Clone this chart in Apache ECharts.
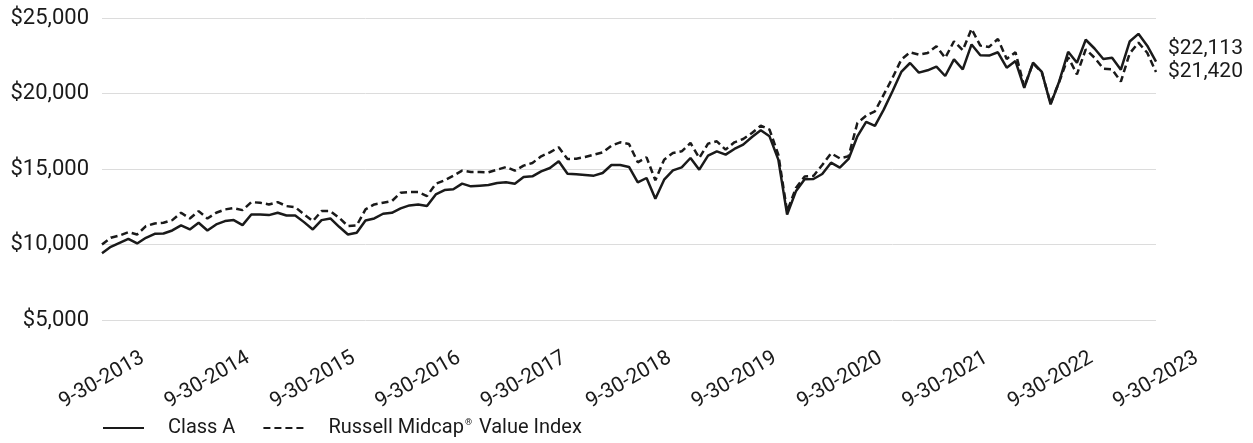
<!DOCTYPE html>
<html>
<head>
<meta charset="utf-8">
<style>
  html, body { margin: 0; padding: 0; background: #fff; }
  #chart { width: 1253px; height: 443px; }
</style>
<script src="https://cdn.jsdelivr.net/npm/echarts@6/dist/echarts.min.js"></script>
</head>
<body>
<div id="chart"></div>
<script>
// month-end dates, 9-30-2013 .. 9-30-2023
const monthEnd = [31, 28, 31, 30, 31, 30, 31, 31, 30, 31, 30, 31]
const months = []
for (let y = 2013, m = 9; y < 2023 || (y === 2023 && m <= 9); m++) {
  if (m > 12) { m = 1; y++ }
  if (y === 2023 && m > 9) break
  const leap = m === 2 && y % 4 === 0
  months.push(m + '-' + (leap ? 29 : monthEnd[m - 1]) + '-' + y)
}

const yTicks = [5000, 10000, 15000, 20000, 25000]

const classA = [
  9425, 9847, 10112, 10377, 10068, 10444, 10709, 10731, 10930, 11261, 10996, 11438,
  10930, 11328, 11549, 11615, 11283, 11990, 11990, 11946, 12101, 11924, 11924, 11482,
  10996, 11615, 11725, 11173, 10665, 10775, 11593, 11725, 12035, 12101, 12388, 12587,
  12653, 12543, 13317, 13604, 13660, 14029, 13852, 13896, 13940, 14073, 14117, 14029,
  14471, 14515, 14846, 15067, 15508, 14691, 14647, 14603, 14559, 14735, 15265, 15265,
  15133, 14117, 14404, 13035, 14294, 14912, 15111, 15729, 14956, 15884, 16171, 15950,
  16325, 16612, 17120, 17562, 17164, 15619, 11975, 13521, 14320, 14338, 14670, 15418,
  15090, 15664, 17166, 18120, 17860, 18932, 20146, 21430, 22020, 21380, 21537, 21780,
  21160, 22260, 21600, 23250, 22530, 22509, 22730, 21710, 22150, 20380, 22040, 21430,
  19280, 20830, 22760, 22040, 23560, 22980, 22280, 22370, 21580, 23440, 23950, 23170,
  22113
]

const russellMidcapValue = [
  10000, 10444, 10598, 10819, 10664, 11217, 11394, 11438, 11615, 12101, 11725, 12212,
  11725, 12101, 12322, 12410, 12278, 12808, 12764, 12654, 12808, 12543, 12477, 11990,
  11549, 12212, 12212, 11770, 11217, 11261, 12322, 12654, 12764, 12875, 13427, 13471,
  13471, 13206, 14024, 14245, 14550, 14890, 14802, 14802, 14780, 14956, 15133, 14890,
  15221, 15398, 15840, 16104, 16436, 15663, 15685, 15795, 15950, 16104, 16546, 16767,
  16656, 15442, 15773, 14250, 15619, 16060, 16171, 16723, 15729, 16678, 16833, 16281,
  16767, 16988, 17385, 17871, 17606, 15950, 12196, 13742, 14500, 14537, 15266, 16040,
  15708, 15841, 18049, 18535, 18822, 19926, 21030, 22244, 22730, 22575, 22686, 23127,
  22354, 23458, 22862, 24275, 23171, 23083, 23613, 22288, 22730, 20450, 22000, 21400,
  19350, 20800, 22400, 21270, 22920, 22370, 21650, 21600, 20790, 22650, 23370, 22700,
  21420
]

const money = (v) => '$' + String(Math.round(v)).replace(/\B(?=(\d{3})+(?!\d))/g, ',')

const ink = '#1a1a1a'
const font = 'Roboto, "Noto Sans", sans-serif'

const chart = echarts.init(document.getElementById('chart'), null, { renderer: 'canvas' })

chart.setOption({
  animation: false,
  textStyle: { fontFamily: font, color: ink },
  grid: { left: 102, right: 97, top: 18, bottom: 123 },
  legend: {
    left: 102,
    top: 418,
    padding: 0,
    itemWidth: 41,
    itemHeight: 14,
    itemGap: 27,
    itemStyle: { opacity: 0 },
    textStyle: {
      fontFamily: font,
      fontSize: 20,
      color: ink,
      padding: [0, 0, 0, 19],
      rich: {
        sup: { fontSize: 9, verticalAlign: 'top', padding: [0, 2, 10, 1] }
      }
    },
    formatter: (name) => name.replace('®', '{sup|®}'),
    data: ['Class A', 'Russell Midcap® Value Index']
  },
  xAxis: {
    type: 'category',
    data: months,
    boundaryGap: false,
    axisLine: { show: false },
    axisTick: { show: false },
    axisLabel: {
      interval: 11,
      rotate: 30,
      align: 'center',
      verticalAlign: 'middle',
      margin: 60,
      fontSize: 21,
      fontFamily: font,
      color: ink
    }
  },
  yAxis: {
    type: 'value',
    min: yTicks[0],
    max: yTicks[yTicks.length - 1],
    interval: 5000,
    axisLine: { show: false },
    axisTick: { show: false },
    splitLine: { lineStyle: { color: '#dcdcdc', width: 1 } },
    axisLabel: {
      margin: 13,
      fontSize: 22,
      fontFamily: font,
      color: ink,
      formatter: money
    }
  },
  series: [
    {
      name: 'Class A',
      type: 'line',
      data: classA,
      symbol: 'none',
      lineStyle: { color: ink, width: 2.5 },
      itemStyle: { color: ink },
      endLabel: {
        show: true,
        formatter: (p) => money(p.value),
        distance: 12,
        offset: [0, -13],
        fontSize: 21,
        fontFamily: font,
        color: ink
      },
      z: 3
    },
    {
      name: 'Russell Midcap® Value Index',
      type: 'line',
      data: russellMidcapValue,
      symbol: 'none',
      lineStyle: { color: ink, width: 2.5, type: [7, 4] },
      itemStyle: { color: ink },
      endLabel: {
        show: true,
        formatter: (p) => money(p.value),
        distance: 12,
        offset: [0, 0],
        fontSize: 21,
        fontFamily: font,
        color: ink
      },
      z: 2
    }
  ]
})

window.addEventListener('resize', () => chart.resize())
</script>
</body>
</html>
